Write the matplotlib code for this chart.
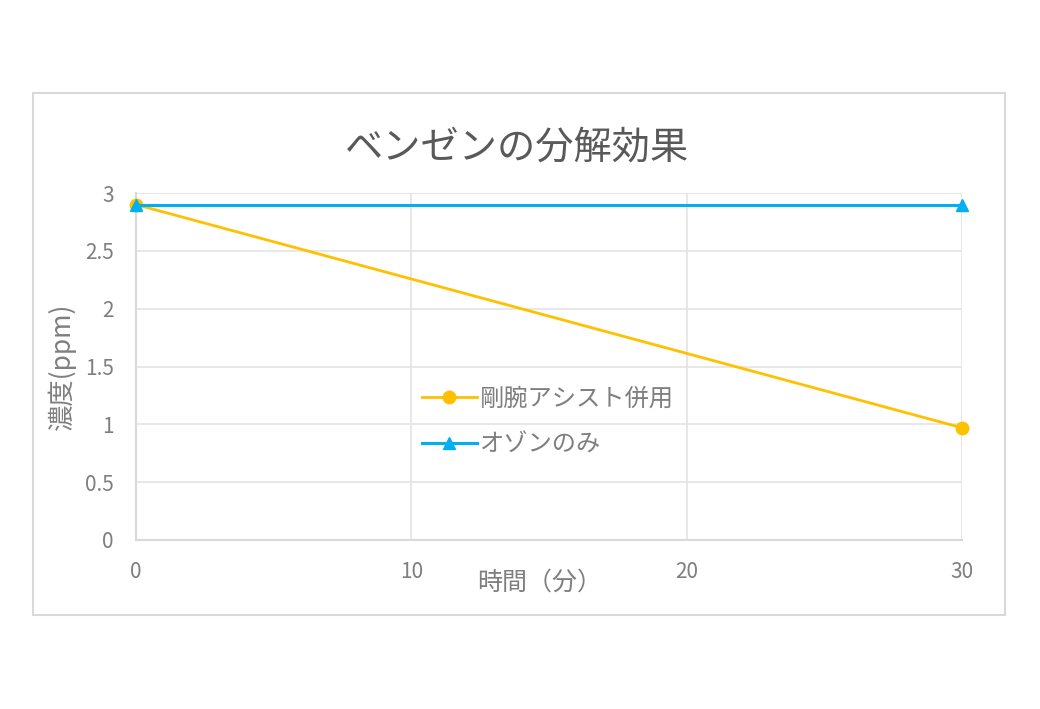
import matplotlib
matplotlib.use("Agg")
import matplotlib.pyplot as plt
from matplotlib.patches import Rectangle

plt.rcParams['font.family'] = ['Noto Sans CJK JP', 'DejaVu Sans']

title = "ベンゼンの分解効果"
x_label = "時間（分）"
y_label = "濃度(ppm)"
time_min = [0, 30]
series_names = ["剛腕アシスト併用", "オゾンのみ"]
assist_values = [2.9, 0.97]
ozone_values = [2.9, 2.9]
x_ticks = [0, 10, 20, 30]
y_ticks = [0, 0.5, 1, 1.5, 2, 2.5, 3]
y_tick_labels = ["0", "0.5", "1", "1.5", "2", "2.5", "3"]

W, H = 1040, 709
fig = plt.figure(figsize=(W / 100, H / 100), dpi=100)
fig.patch.set_facecolor('white')

# outer chart border
fig.patches.append(Rectangle((33 / W, 1 - 615 / H), (1005 - 33) / W, (615 - 93) / H,
                             transform=fig.transFigure, fill=False,
                             edgecolor='#d9d9d9', linewidth=1.5))

ax = fig.add_axes([136 / W, 1 - 540 / H, (962 - 136) / W, (540 - 193) / H])
ax.set_xlim(0, 30)
ax.set_ylim(0, 3)

grid_c = '#e3e3e3'
ax.set_xticks(x_ticks)
ax.set_yticks(y_ticks)
ax.set_yticklabels(y_tick_labels)
ax.grid(True, color=grid_c, linewidth=1.2)
ax.set_axisbelow(True)
for s in ['top', 'right']:
    ax.spines[s].set_visible(False)
for s in ['left', 'bottom']:
    ax.spines[s].set_color('#d9d9d9')
    ax.spines[s].set_linewidth(1.5)
ax.tick_params(length=0, colors='#7f7f7f', labelsize=15)
ax.tick_params(axis='y', pad=16)
ax.tick_params(axis='x', pad=15)

ax.plot(time_min, assist_values, color='#FFC000', linewidth=2, marker='o',
        markersize=9, label=series_names[0], clip_on=False, zorder=3)
ax.plot(time_min, ozone_values, color='#00B0F0', linewidth=2.2, marker='^',
        markersize=9, label=series_names[1], clip_on=False, zorder=4)

ax.set_ylabel(y_label, fontsize=19, color='#7f7f7f')
ax.yaxis.set_label_coords((62 - 136) / (962 - 136), 0.5)
ax.yaxis.label.set_verticalalignment('center')
ax.set_xlabel(x_label, fontsize=18, color='#7f7f7f')
ax.xaxis.set_label_coords((540 - 136) / (962 - 136), (540 - 583) / (540 - 193))
ax.xaxis.label.set_verticalalignment('center')

fig.text(517 / W, 1 - 148 / H, title, ha='center', va='center',
         fontsize=27.5, color='#595959')

leg = ax.legend(loc='upper left', bbox_to_anchor=(422 / W, 1 - 386 / H),
                bbox_transform=fig.transFigure, frameon=False, fontsize=17.5,
                handlelength=2.25, handletextpad=0.15, labelspacing=0.8,
                borderpad=0, borderaxespad=0)
for t in leg.get_texts():
    t.set_color('#7f7f7f')

fig.savefig('out.png', dpi=100)
